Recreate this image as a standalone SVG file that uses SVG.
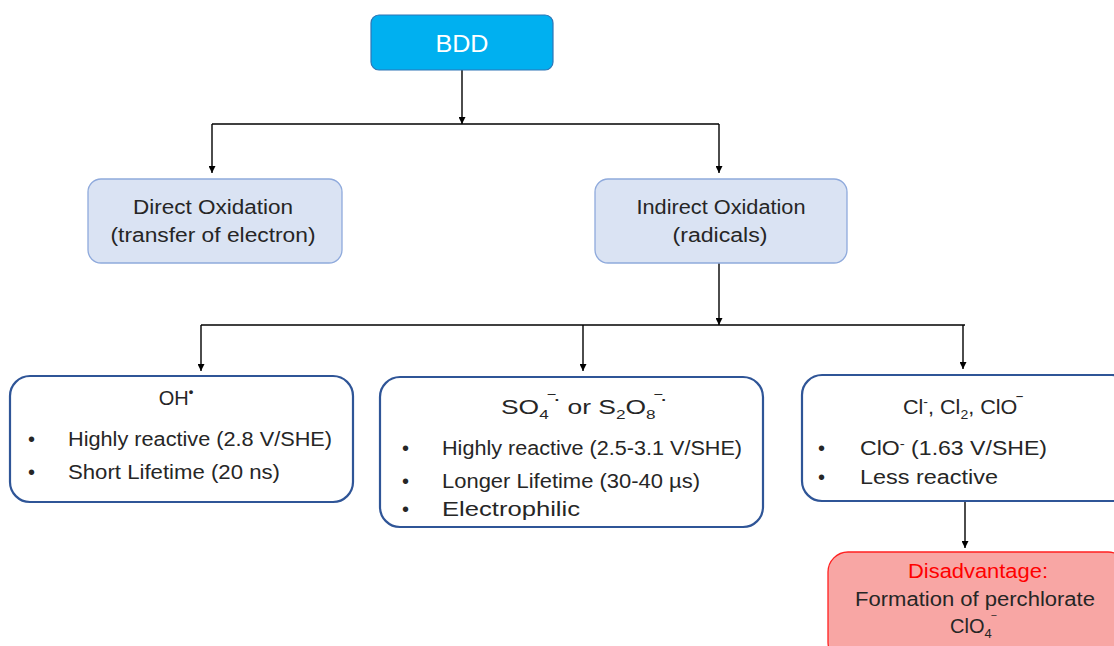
<svg xmlns="http://www.w3.org/2000/svg" width="1114" height="646" viewBox="0 0 1114 646">
<style>
text{font-family:"Liberation Sans",Arial,sans-serif;fill:#262626;font-size:20px}
.c{text-anchor:middle}
.sup{font-size:13px}
.sub{font-size:13px}
.lb{fill:#DAE3F3;stroke:#8FAADC;stroke-width:1.3}
.wb{fill:#fff;stroke:#2F5597;stroke-width:2.2}
.ln{fill:none;stroke:#000;stroke-width:1.4}
</style>
<defs>
<marker id="ah" viewBox="0 0 10 10" refX="10" refY="5" markerWidth="7" markerHeight="7" orient="auto" markerUnits="userSpaceOnUse">
<path d="M0,0 L10,5 L0,10 z" fill="#000"/>
</marker>
</defs>
<g id="connectors">
<path class="ln" d="M462,70 V124" marker-end="url(#ah)"/>
<path class="ln" d="M212,124 H719"/>
<path class="ln" d="M212,124 V173" marker-end="url(#ah)"/>
<path class="ln" d="M719,124 V173" marker-end="url(#ah)"/>
<path class="ln" d="M719,263 V325" marker-end="url(#ah)"/>
<path class="ln" d="M201,325 H965"/>
<path class="ln" d="M201,325 V371" marker-end="url(#ah)"/>
<path class="ln" d="M583,325 V371" marker-end="url(#ah)"/>
<path class="ln" d="M963,325 V369" marker-end="url(#ah)"/>
<path class="ln" d="M965,501 V548" marker-end="url(#ah)"/>
</g>
<g id="bdd">
<rect x="371" y="15" width="182" height="55" rx="8" fill="#00B0F0" stroke="#2E75B6" stroke-width="1.2"/>
<text x="462" y="52" class="c" style="fill:#fff;font-size:24px" textLength="53" lengthAdjust="spacingAndGlyphs">BDD</text>
</g>
<g id="direct">
<rect class="lb" x="88" y="179" width="254" height="84" rx="13"/>
<text x="213" y="214" class="c" textLength="160" lengthAdjust="spacingAndGlyphs">Direct Oxidation</text>
<text x="213" y="242" class="c" textLength="205" lengthAdjust="spacingAndGlyphs">(transfer of electron)</text>
</g>
<g id="indirect">
<rect class="lb" x="595" y="179" width="252" height="84" rx="13"/>
<text x="721" y="214" class="c" textLength="169" lengthAdjust="spacingAndGlyphs">Indirect Oxidation</text>
<text x="720" y="242" class="c" textLength="95" lengthAdjust="spacingAndGlyphs">(radicals)</text>
</g>
<g id="oh">
<rect class="wb" x="10" y="376" width="343" height="126" rx="20"/>
<text x="176" y="405" class="c">OH<tspan class="sup" dy="-9" style="font-weight:bold">•</tspan></text>
<text x="28" y="446">•</text>
<text x="68" y="446" textLength="264" lengthAdjust="spacingAndGlyphs">Highly reactive (2.8 V/SHE)</text>
<text x="28" y="479">•</text>
<text x="68" y="479" textLength="212" lengthAdjust="spacingAndGlyphs">Short Lifetime (20 ns)</text>
</g>
<g id="so4">
<rect class="wb" x="380" y="377" width="383" height="150" rx="20"/>
<text x="501" y="414" textLength="166" lengthAdjust="spacingAndGlyphs">SO<tspan class="sub" dy="5">4</tspan><tspan class="sup" dy="-15" style="font-weight:bold">‾·</tspan><tspan dy="10"> or S</tspan><tspan class="sub" dy="5">2</tspan><tspan dy="-5">O</tspan><tspan class="sub" dy="5">8</tspan><tspan class="sup" dy="-15" style="font-weight:bold">‾·</tspan></text>
<text x="402" y="455">•</text>
<text x="442" y="455" textLength="300" lengthAdjust="spacingAndGlyphs">Highly reactive (2.5-3.1 V/SHE)</text>
<text x="402" y="488">•</text>
<text x="442" y="488" textLength="258" lengthAdjust="spacingAndGlyphs">Longer Lifetime (30-40 µs)</text>
<text x="402" y="516">•</text>
<text x="442" y="516" textLength="138" lengthAdjust="spacingAndGlyphs">Electrophilic</text>
</g>
<g id="cl">
<rect class="wb" x="802" y="375" width="330" height="126" rx="20"/>
<text x="903" y="414" textLength="119" lengthAdjust="spacingAndGlyphs">Cl<tspan class="sup" dy="-8">-</tspan><tspan dy="8">, Cl</tspan><tspan class="sub" dy="5">2</tspan><tspan dy="-5">, ClO</tspan><tspan class="sup" dy="-8" style="font-weight:bold">‾</tspan></text>
<text x="818" y="455">•</text>
<text x="860" y="455" textLength="187" lengthAdjust="spacingAndGlyphs">ClO<tspan class="sup" dy="-7">-</tspan><tspan dy="7"> (1.63 V/SHE)</tspan></text>
<text x="818" y="484">•</text>
<text x="860" y="484" textLength="138" lengthAdjust="spacingAndGlyphs">Less reactive</text>
</g>
<g id="disadv">
<rect x="828" y="552" width="300" height="110" rx="20" fill="#F8A6A4" stroke="#FF2020" stroke-width="1.3"/>
<text x="978" y="578" class="c" style="fill:#FF0000" textLength="140" lengthAdjust="spacingAndGlyphs">Disadvantage:</text>
<text x="975" y="606" class="c" textLength="240" lengthAdjust="spacingAndGlyphs">Formation of perchlorate</text>
<text x="950" y="633">ClO<tspan class="sub" dy="5">4</tspan><tspan class="sup" dy="-13">‾</tspan></text>
</g>
</svg>
